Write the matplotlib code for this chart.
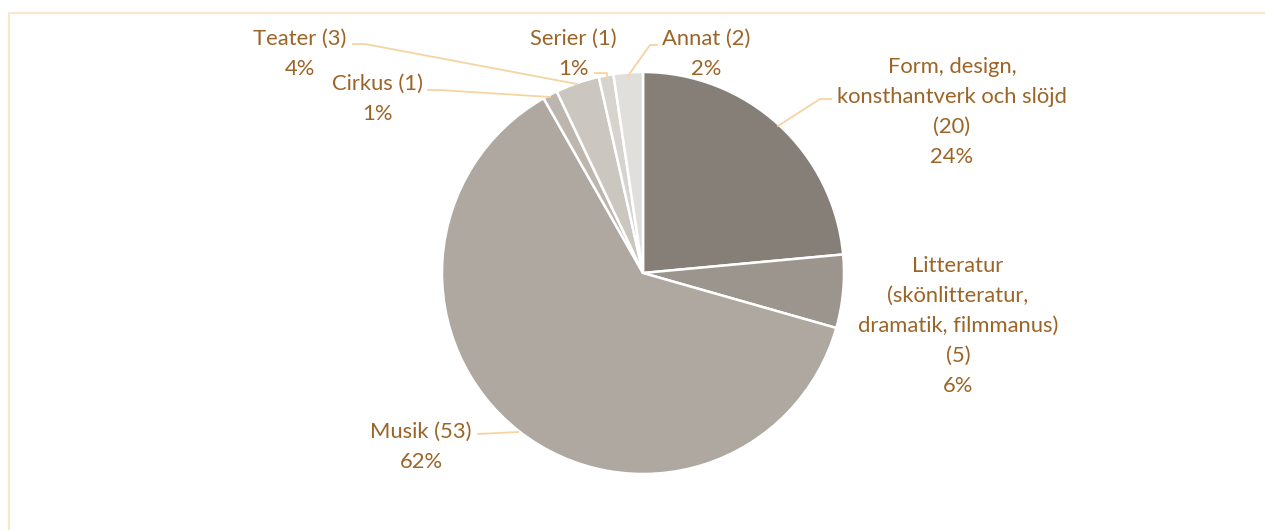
import matplotlib.pyplot as plt
from matplotlib.patches import Rectangle

# data
labels = ["Form, design,\nkonsthantverk och slöjd\n(20)", "Litteratur\n(skönlitteratur,\ndramatik, filmmanus)\n(5)",
          "Musik (53)", "Cirkus (1)", "Teater (3)", "Serier (1)", "Annat (2)"]
counts = [20, 5, 53, 1, 3, 1, 2]
colors = ["#857f78", "#9c958e", "#aea8a1", "#bcb6af", "#cbc6c0", "#d7d4cf", "#e1dfdb"]

# label centres (px, top origin) and leader lines
label_pos = [(952, 112), (958, 326), (421, 447), (377, 99), (300, 54), (573, 54), (706, 54)]
leaders = [
    [(831, 99), (820, 99), (778, 126)],
    None,
    [(478, 434), (518, 432)],
    [(428, 90), (440, 90), (550, 97)],
    [(353, 44), (365, 44), (577, 84)],
    [(595, 73), (607, 73), (607, 78)],
    [(657, 45), (650, 45), (628, 76)],
]

W, H = 1265, 530
txt_color = "#9c6426"
line_color = "#f6d4a2"

plt.rcParams["font.family"] = ["Lato", "DejaVu Sans"]

fig = plt.figure(figsize=(W / 100, H / 100), dpi=100)
ax = fig.add_axes([0, 0, 1, 1])

ax.pie(counts, colors=colors, startangle=90, counterclock=False,
       center=(643, H - 273), radius=201,
       wedgeprops=dict(edgecolor="white", linewidth=1.8))

ax.set_xlim(0, W)
ax.set_ylim(0, H)
ax.set_aspect("equal")
ax.axis("off")

# border
ax.add_patch(Rectangle((8.5, -20), W + 30, H - 12.5 + 20, fill=False,
                       edgecolor="#fbe6cb", linewidth=1.5))

total = sum(counts)
for lab, c, (x, y) in zip(labels, counts, label_pos):
    pct = "{:.0f}%".format(100 * c / total)
    ax.text(x, H - y, lab + "\n" + pct, ha="center", va="center",
            color=txt_color, fontsize=15.8, linespacing=1.62)

for pts in leaders:
    if pts is None:
        continue
    xs = [p[0] for p in pts]
    ys = [H - p[1] for p in pts]
    ax.plot(xs, ys, color=line_color, linewidth=1.3, zorder=5)

fig.savefig("out.png", dpi=100)
